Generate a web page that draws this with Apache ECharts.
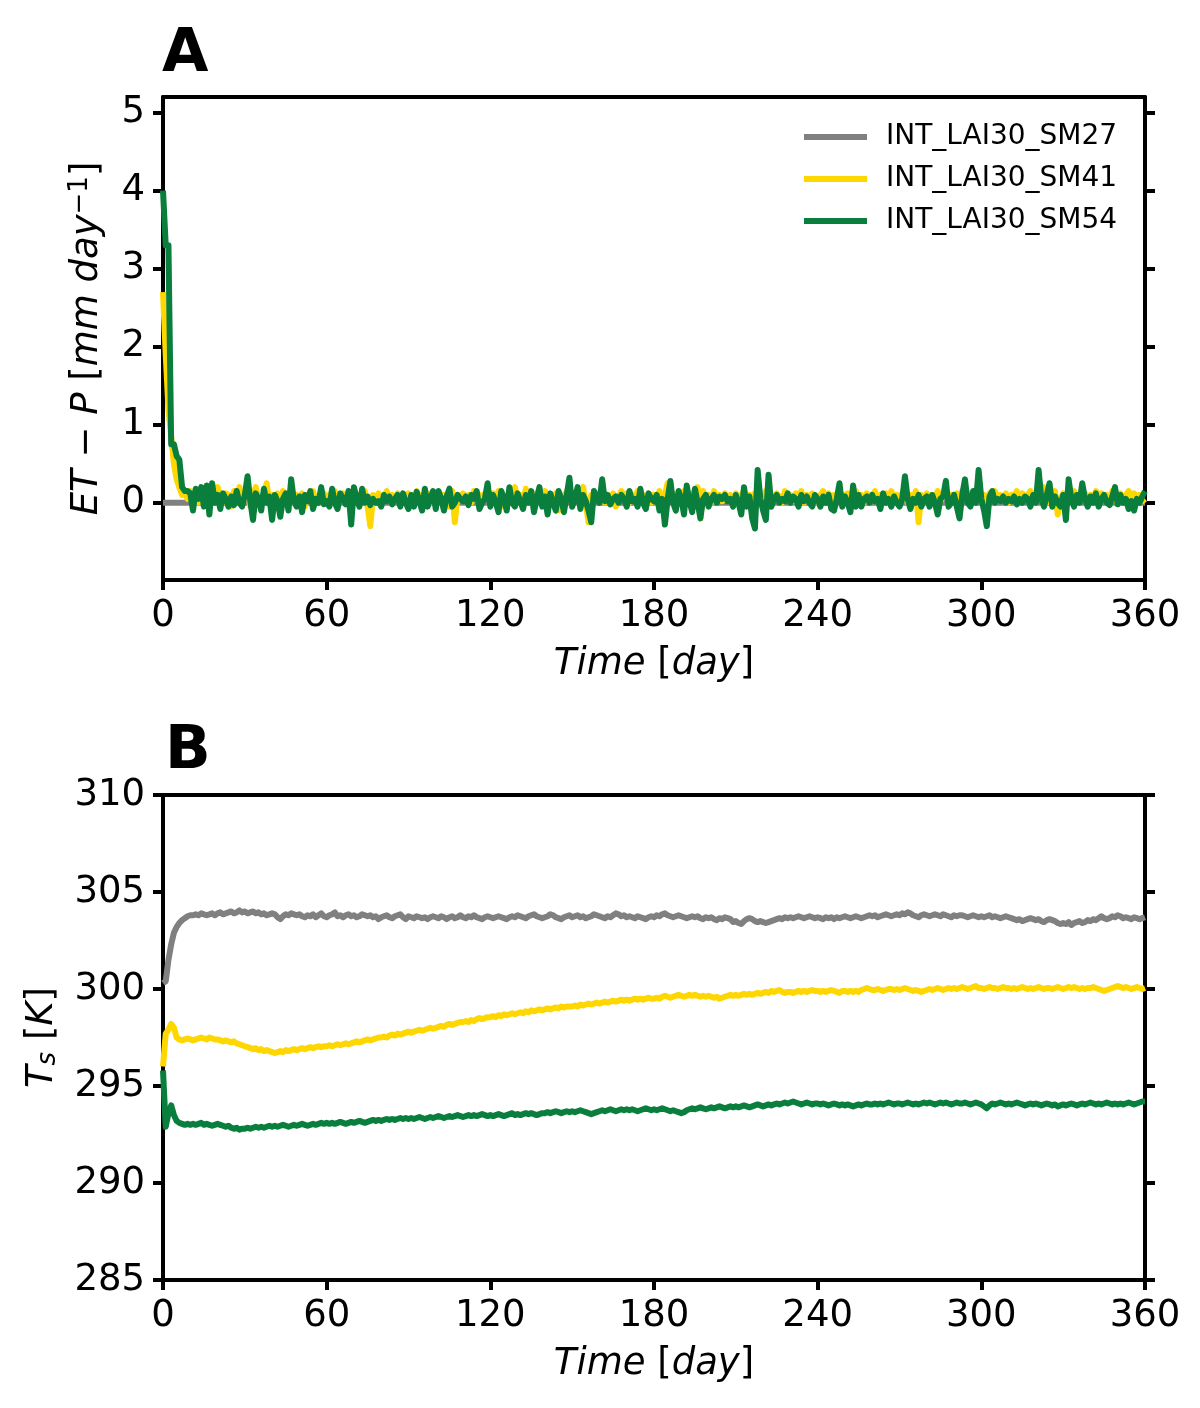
<!DOCTYPE html>
<html><head><meta charset="utf-8">
<script src="https://cdn.jsdelivr.net/npm/echarts@6/dist/echarts.min.js"></script>
<style>html,body{margin:0;padding:0;background:#fff}#c{width:1200px;height:1408px}</style>
</head><body><div id="c"></div>
<script>
const seriesNames = ['INT_LAI30_SM27','INT_LAI30_SM41','INT_LAI30_SM54'];
const seriesColors = ['#808080','#ffd700','#0a7f3d'];
const xTicks = [0,60,120,180,240,300,360];
const etTicks = [0,1,2,3,4,5];
const tsTicks = [285,290,295,300,305,310];

// Panel A: ET - P [mm day-1], daily, day 0..360
const etSM27 = [
0,0,0,0,0,0,0,0,0,0,0,0,0,0,0,0,0,0,0,0,
0,0,0,0,0,0,0,0,0,0,0,0,0,0,0,0,0,0,0,0,
0,0,0,0,0,0,0,0,0,0,0,0,0,0,0,0,0,0,0,0,
0,0,0,0,0,0,0,0,0,0,0,0,0,0,0,0,0,0,0,0,
0,0,0,0,0,0,0,0,0,0,0,0,0,0,0,0,0,0,0,0,
0,0,0,0,0,0,0,0,0,0,0,0,0,0,0,0,0,0,0,0,
0,0,0,0,0,0,0,0,0,0,0,0,0,0,0,0,0,0,0,0,
0,0,0,0,0,0,0,0,0,0,0,0,0,0,0,0,0,0,0,0,
0,0,0,0,0,0,0,0,0,0,0,0,0,0,0,0,0,0,0,0,
0,0,0,0,0,0,0,0,0,0,0,0,0,0,0,0,0,0,0,0,
0,0,0,0,0,0,0,0,0,0,0,0,0,0,0,0,0,0,0,0,
0,0,0,0,0,0,0,0,0,0,0,0,0,0,0,0,0,0,0,0,
0,0,0,0,0,0,0,0,0,0,0,0,0,0,0,0,0,0,0,0,
0,0,0,0,0,0,0,0,0,0,0,0,0,0,0,0,0,0,0,0,
0,0,0,0,0,0,0,0,0,0,0,0,0,0,0,0,0,0,0,0,
0,0,0,0,0,0,0,0,0,0,0,0,0,0,0,0,0,0,0,0,
0,0,0,0,0,0,0,0,0,0,0,0,0,0,0,0,0,0,0,0,
0,0,0,0,0,0,0,0,0,0,0,0,0,0,0,0,0,0,0,0,
0];
const etSM41 = [
2.7,1.9,1.2,0.85,0.5,0.3,0.2,0.1,0.12,0.05,
0.15,0.05,0.1,0.0,0.12,0.08,-0.02,0.1,0.15,0.05,
0.2,0.08,0.0,0.12,0.1,-0.05,0.15,0.05,0.2,0.02,
0.08,0.15,-0.05,0.1,0.2,0.05,0.0,0.12,0.25,-0.02,
0.1,0.05,0.12,0.0,0.15,0.08,0.05,0.2,0.0,0.1,
0.05,0.12,-0.05,0.1,0.05,0.15,0.02,0.08,0.0,0.12,
0.05,0.1,0.02,0.15,-0.05,0.08,0.12,0.0,0.1,0.05,
0.12,0.0,0.1,0.05,0.15,-0.05,-0.3,0.1,0.05,0.12,
0.0,0.08,0.15,0.02,0.1,0.05,0.12,-0.02,0.1,0.05,
0.12,0.0,0.08,0.15,0.05,0.1,0.02,0.12,0.0,0.1,
0.05,0.12,0.0,0.1,0.08,-0.05,0.15,-0.25,0.1,0.05,
0.12,0.05,0.1,0.0,0.15,0.05,0.1,0.02,0.12,0.08,
0.0,0.12,0.05,0.15,-0.05,0.1,0.05,0.12,0.0,0.2,
0.05,0.1,0.0,0.18,0.05,0.1,-0.05,0.12,0.05,0.1,
0.15,0.0,0.1,0.05,0.12,-0.1,0.1,0.05,0.15,0.08,
0.0,0.12,0.05,0.1,0.2,0.0,-0.25,0.1,0.05,0.12,
0.05,0.15,0.0,0.1,0.05,0.12,-0.05,0.08,0.15,0.05,
0.12,0.0,0.1,0.05,0.15,0.02,0.1,0.05,0.12,0.0,
0.1,0.05,0.15,-0.05,0.1,0.25,0.05,0.12,0.0,0.1,
0.05,0.15,0.0,0.1,0.12,0.05,0.2,-0.2,0.15,0.05,
0.1,0.0,0.15,0.05,0.1,0.02,0.12,0.05,0.1,0.0,
0.12,0.05,0.1,0.15,0.0,0.1,0.05,0.12,0.02,0.1,
0.05,0.15,0.0,0.1,0.05,0.12,0.08,0.0,0.15,0.05,
0.1,0.02,0.12,0.05,0.15,0.0,0.1,0.08,0.12,0.05,
0.0,0.1,0.15,0.05,0.12,-0.05,0.1,0.05,0.15,0.02,
0.1,0.12,-0.02,0.08,0.15,0.05,0.1,0.0,0.12,0.05,
0.08,0.15,0.02,0.1,0.05,0.12,0.0,0.15,0.05,0.1,
0.05,0.12,0.2,0.0,0.1,0.05,0.15,-0.25,0.1,0.05,
0.12,0.0,0.1,0.05,0.15,0.02,0.1,0.18,0.05,0.1,
0.0,0.12,0.05,0.15,0.1,0.02,0.12,0.05,0.1,0.2,
0.05,0.1,0.0,0.12,0.05,0.15,0.02,0.1,0.05,0.12,
0.0,0.1,0.05,0.15,0.02,0.12,0.05,0.1,0.15,0.0,
0.1,0.05,0.12,0.2,0.0,0.1,0.05,0.15,-0.15,0.05,
0.12,0.0,0.1,0.05,0.15,0.02,0.1,0.05,0.12,0.0,
0.1,0.05,0.15,0.0,0.12,0.05,0.1,0.02,0.15,0.05,
0.0,0.12,0.05,0.1,0.15,0.0,0.12,0.05,0.1,0.02,
0.05];
const etSM54 = [
4.0,3.3,3.3,0.75,0.75,0.6,0.55,0.2,0.15,0.15,
0.12,-0.1,0.18,0.05,0.2,-0.05,0.22,-0.15,0.25,0.0,
0.1,-0.08,0.12,0.05,-0.05,0.08,-0.03,0.15,0.0,-0.05,
0.1,0.34,0.02,-0.22,0.12,0.05,-0.1,0.18,0.0,0.08,
-0.22,0.1,0.02,-0.18,0.05,0.12,-0.1,0.3,0.02,-0.05,
0.08,-0.12,0.1,0.02,0.15,-0.08,0.05,0.0,0.2,-0.02,
0.02,-0.05,0.18,0.0,-0.08,0.12,0.05,-0.02,0.15,-0.28,
0.2,0.05,-0.05,0.18,0.0,0.08,-0.03,0.05,0.0,0.02,
-0.05,0.1,0.02,0.08,-0.02,0.05,0.1,-0.05,0.12,0.0,
-0.08,0.1,-0.05,0.14,0.02,-0.1,0.18,-0.05,0.05,0.15,
-0.08,0.15,0.05,-0.1,0.08,0.18,-0.05,0.0,0.1,0.05,
0.02,0.08,-0.03,0.1,0.05,0.15,-0.08,0.0,0.05,0.25,
-0.05,0.1,0.0,-0.12,0.15,0.05,-0.1,0.2,0.0,-0.05,
0.12,0.02,-0.08,0.1,0.0,0.15,-0.12,0.05,0.2,-0.05,
0.08,-0.15,0.12,0.0,-0.1,0.15,0.05,-0.12,0.1,0.32,
-0.05,0.05,0.2,-0.08,0.1,0.02,-0.1,-0.25,0.15,0.05,
0.0,0.3,0.02,0.1,-0.02,0.05,0.08,0.0,0.1,0.05,
-0.05,0.15,0.02,0.05,-0.05,0.18,0.0,-0.08,0.12,0.05,
0.02,0.1,-0.1,0.05,-0.28,0.05,0.28,0.0,-0.1,0.15,
0.05,-0.15,0.22,0.02,-0.12,0.18,0.0,-0.2,0.05,0.1,
-0.05,0.05,0.1,0.0,0.08,0.05,0.1,0.02,0.05,-0.05,
0.1,0.0,-0.15,0.2,-0.05,0.08,-0.2,-0.33,0.42,0.05,
-0.1,-0.22,0.36,-0.05,0.05,0.1,0.0,0.05,0.02,0.12,
0.0,0.08,0.05,-0.05,0.1,0.02,0.08,0.0,-0.05,0.1,
0.05,-0.05,0.08,0.0,0.1,-0.08,-0.1,0.05,0.25,-0.05,
0.08,0.0,-0.12,0.22,-0.05,0.1,-0.05,0.05,0.08,0.0,
0.1,0.02,0.05,-0.08,0.12,0.0,0.05,-0.05,0.08,0.0,
-0.05,0.05,0.34,0.05,-0.08,0.05,0.0,0.1,-0.05,0.05,
0.08,-0.05,0.1,0.0,-0.15,0.05,0.08,0.28,-0.05,0.0,
0.1,-0.05,-0.2,0.1,0.3,0.0,-0.05,0.15,0.0,0.42,
0.05,-0.1,-0.3,0.08,0.15,0.0,0.05,0.02,0.08,0.0,
0.05,0.02,0.08,-0.02,0.05,0.0,0.08,0.05,-0.05,0.1,
0.0,0.42,0.05,-0.05,0.1,0.25,-0.05,0.08,0.0,-0.05,
0.1,-0.22,0.3,0.05,-0.05,0.1,0.0,0.25,0.05,-0.05,
0.08,0.0,0.12,-0.05,0.05,0.1,0.0,-0.03,0.08,0.2,
-0.02,0.1,0.0,0.05,-0.08,0.02,-0.1,0.05,0.0,0.08,
0.15];

// Panel B: Ts [K], daily, day 0..360
const tsSM27 = [
300.3,300.4,301.5,302.3,302.9,303.2,303.4,303.55,303.65,303.75,
303.8,303.8,303.85,303.8,303.9,303.85,303.8,303.85,303.9,303.8,
303.9,303.95,303.85,303.9,303.95,304.0,303.9,303.95,304.05,303.95,
304.0,303.9,303.95,304.0,303.9,303.95,303.85,303.9,303.8,303.85,
303.9,303.85,303.7,303.6,303.75,303.85,303.8,303.9,303.85,303.8,
303.85,303.75,303.7,303.8,303.75,303.85,303.7,303.8,303.9,303.75,
303.7,303.8,303.85,303.95,303.75,303.8,303.7,303.8,303.85,303.75,
303.8,303.7,303.75,303.85,303.8,303.75,303.8,303.7,303.75,303.6,
303.7,303.75,303.8,303.7,303.65,303.75,303.8,303.85,303.7,303.6,
303.75,303.7,303.65,303.75,303.7,303.65,303.7,303.6,303.7,303.75,
303.7,303.65,303.75,303.7,303.6,303.7,303.75,303.65,303.7,303.8,
303.7,303.65,303.75,303.7,303.8,303.7,303.65,303.6,303.7,303.75,
303.7,303.65,303.7,303.75,303.7,303.65,303.6,303.7,303.75,303.7,
303.8,303.75,303.7,303.65,303.75,303.8,303.85,303.75,303.7,303.65,
303.7,303.75,303.85,303.8,303.7,303.65,303.6,303.7,303.75,303.8,
303.7,303.75,303.8,303.7,303.75,303.65,303.7,303.75,303.85,303.8,
303.75,303.7,303.65,303.75,303.7,303.8,303.9,303.85,303.75,303.8,
303.7,303.75,303.7,303.65,303.75,303.7,303.65,303.6,303.7,303.75,
303.7,303.8,303.75,303.85,303.9,303.8,303.75,303.7,303.75,303.8,
303.75,303.7,303.65,303.7,303.75,303.7,303.75,303.65,303.6,303.7,
303.65,303.7,303.6,303.55,303.65,303.6,303.7,303.65,303.6,303.45,
303.5,303.4,303.35,303.5,303.6,303.65,303.6,303.5,303.45,303.5,
303.45,303.4,303.45,303.5,303.55,303.6,303.65,303.6,303.7,303.65,
303.7,303.65,303.7,303.75,303.7,303.65,303.7,303.75,303.7,303.65,
303.7,303.65,303.6,303.7,303.65,303.7,303.6,303.7,303.65,303.7,
303.75,303.7,303.65,303.7,303.75,303.7,303.65,303.7,303.75,303.8,
303.75,303.8,303.7,303.75,303.8,303.85,303.8,303.75,303.8,303.85,
303.8,303.9,303.85,303.95,303.9,303.8,303.75,303.7,303.8,303.85,
303.8,303.75,303.8,303.85,303.8,303.75,303.85,303.8,303.75,303.7,
303.8,303.75,303.8,303.8,303.75,303.7,303.75,303.8,303.75,303.7,
303.75,303.7,303.75,303.8,303.7,303.75,303.7,303.65,303.7,303.75,
303.7,303.65,303.6,303.55,303.6,303.5,303.55,303.6,303.65,303.6,
303.55,303.6,303.5,303.45,303.55,303.6,303.55,303.5,303.4,303.35,
303.4,303.35,303.45,303.3,303.4,303.45,303.5,303.4,303.45,303.55,
303.5,303.6,303.55,303.65,303.75,303.65,303.6,303.65,303.75,303.7,
303.8,303.75,303.65,303.7,303.65,303.6,303.7,303.65,303.6,303.65,
303.7];
const tsSM41 = [
296.0,297.7,297.9,298.2,298.0,297.5,297.4,297.35,297.4,297.45,
297.4,297.35,297.4,297.45,297.5,297.45,297.4,297.5,297.45,297.4,
297.4,297.35,297.3,297.35,297.3,297.25,297.3,297.2,297.15,297.1,
297.05,297.0,296.95,296.9,296.95,296.85,296.9,296.8,296.85,296.8,
296.75,296.7,296.75,296.8,296.75,296.85,296.8,296.85,296.9,296.85,
296.9,296.95,296.9,296.95,297.0,296.95,297.0,297.05,297.0,297.05,
297.05,297.1,297.05,297.1,297.15,297.1,297.15,297.2,297.15,297.2,
297.25,297.3,297.25,297.3,297.35,297.4,297.35,297.4,297.45,297.5,
297.5,297.55,297.5,297.6,297.65,297.6,297.7,297.65,297.7,297.75,
297.8,297.75,297.8,297.85,297.9,297.85,297.9,297.95,298.0,297.95,
298.0,298.05,298.1,298.05,298.15,298.2,298.15,298.2,298.25,298.3,
298.3,298.35,298.3,298.4,298.35,298.45,298.5,298.45,298.5,298.55,
298.55,298.6,298.55,298.65,298.6,298.7,298.65,298.7,298.75,298.7,
298.75,298.8,298.75,298.85,298.8,298.9,298.85,298.9,298.95,298.9,
298.95,299.0,298.95,299.0,299.05,299.0,299.1,299.05,299.1,299.1,
299.1,299.15,299.1,299.2,299.15,299.2,299.25,299.2,299.25,299.3,
299.25,299.3,299.35,299.3,299.35,299.4,299.35,299.4,299.45,299.4,
299.45,299.4,299.45,299.5,299.45,299.5,299.45,299.5,299.55,299.5,
299.5,299.55,299.5,299.6,299.65,299.6,299.55,299.6,299.65,299.7,
299.65,299.6,299.65,299.7,299.65,299.7,299.65,299.6,299.65,299.6,
299.65,299.6,299.55,299.6,299.5,299.55,299.6,299.65,299.7,299.65,
299.7,299.65,299.7,299.75,299.7,299.75,299.7,299.75,299.8,299.75,
299.8,299.85,299.8,299.9,299.85,299.9,299.95,299.85,299.8,299.85,
299.85,299.8,299.85,299.9,299.85,299.9,299.85,299.9,299.95,299.9,
299.9,299.85,299.9,299.85,299.9,299.95,299.9,299.85,299.8,299.9,
299.9,299.85,299.9,299.85,299.9,299.85,299.95,300.0,300.05,300.0,
299.95,299.95,300.0,299.95,299.9,299.95,300.0,300.0,299.95,300.0,
299.95,300.0,300.05,300.0,299.95,299.9,299.95,299.9,299.85,299.9,
299.95,300.0,299.95,300.0,300.05,300.0,299.95,300.0,300.05,300.0,
300.05,300.0,300.05,300.1,300.05,300.0,300.05,300.1,300.15,300.05,
300.05,300.0,300.05,300.1,300.05,300.05,300.0,300.05,300.1,300.05,
300.05,300.0,300.05,300.0,300.05,300.1,300.05,300.0,300.05,300.0,
300.05,300.1,300.05,300.0,300.05,300.05,300.0,300.05,300.1,300.05,
300.0,300.05,300.1,300.05,300.1,300.05,300.0,300.05,300.0,300.05,
300.05,300.1,300.05,300.0,299.95,299.9,299.95,300.0,300.05,300.1,
300.15,300.1,300.05,300.1,300.05,300.0,300.05,300.1,300.05,300.0,
300.05];
const tsSM54 = [
295.8,292.9,293.6,294.0,293.5,293.2,293.1,293.05,293.0,293.05,
293.0,293.05,293.0,293.05,293.1,293.0,293.05,293.0,292.95,293.0,
293.05,293.0,292.95,292.9,292.95,292.85,292.8,292.85,292.75,292.8,
292.8,292.85,292.8,292.85,292.9,292.85,292.9,292.85,292.9,292.95,
292.9,292.95,292.9,292.95,293.0,292.95,292.9,292.95,293.0,292.95,
293.0,293.05,293.0,292.95,293.0,293.05,293.0,293.05,293.1,293.05,
293.1,293.05,293.1,293.05,293.1,293.15,293.1,293.05,293.1,293.15,
293.1,293.15,293.2,293.15,293.1,293.15,293.2,293.25,293.2,293.25,
293.2,293.25,293.3,293.25,293.3,293.25,293.3,293.35,293.3,293.35,
293.3,293.35,293.3,293.35,293.4,293.35,293.3,293.35,293.4,293.35,
293.4,293.45,293.4,293.35,293.4,293.45,293.4,293.45,293.5,293.45,
293.4,293.45,293.5,293.45,293.5,293.45,293.5,293.55,293.5,293.45,
293.5,293.45,293.5,293.55,293.5,293.45,293.5,293.55,293.6,293.5,
293.55,293.5,293.55,293.6,293.55,293.6,293.55,293.5,293.55,293.6,
293.6,293.65,293.6,293.65,293.7,293.65,293.6,293.65,293.7,293.65,
293.7,293.65,293.7,293.75,293.7,293.65,293.6,293.55,293.6,293.65,
293.7,293.75,293.7,293.75,293.8,293.75,293.7,293.75,293.8,293.75,
293.8,293.75,293.8,293.75,293.7,293.75,293.8,293.85,293.8,293.75,
293.8,293.75,293.8,293.85,293.8,293.75,293.7,293.75,293.7,293.65,
293.6,293.65,293.75,293.8,293.85,293.8,293.85,293.9,293.85,293.8,
293.85,293.9,293.85,293.9,293.95,293.9,293.85,293.9,293.95,293.9,
293.95,293.9,293.95,294.0,293.95,293.9,293.95,294.0,294.05,294.0,
293.95,294.0,294.05,294.0,294.05,294.1,294.05,294.1,294.15,294.1,
294.15,294.2,294.15,294.1,294.05,294.1,294.15,294.1,294.05,294.1,
294.1,294.05,294.1,294.05,294.0,294.05,294.1,294.05,294.0,294.05,
294.0,294.05,294.0,293.95,294.0,294.05,294.0,294.05,294.1,294.05,
294.05,294.1,294.05,294.1,294.05,294.1,294.15,294.1,294.05,294.1,
294.1,294.05,294.1,294.15,294.1,294.05,294.1,294.05,294.1,294.15,
294.1,294.15,294.1,294.05,294.1,294.15,294.1,294.15,294.1,294.05,
294.1,294.15,294.1,294.1,294.15,294.1,294.05,294.1,294.15,294.1,
294.05,293.95,293.85,294.0,294.1,294.05,294.1,294.15,294.1,294.05,
294.1,294.05,294.1,294.15,294.1,294.05,294.0,294.05,294.1,294.05,
294.1,294.05,294.0,294.05,294.1,294.05,294.0,294.05,293.95,294.0,
294.05,294.0,294.05,294.1,294.05,294.0,294.05,294.1,294.05,294.1,
294.15,294.1,294.05,294.1,294.05,294.1,294.15,294.1,294.05,294.1,
294.05,294.1,294.05,294.1,294.15,294.1,294.05,294.1,294.15,294.2,
294.2];

const F = 'DejaVu Sans';
const FS = 37;
const days = etSM54.map((_, i) => i);
const pairs = arr => arr.map((v, i) => [days[i], v]);

const spine = {show: true, onZero: false, lineStyle: {color: '#000', width: 4}};
const tick = {show: true, length: 10, inside: false, lineStyle: {color: '#000', width: 4}};
const lbl = {fontSize: FS, color: '#000', fontFamily: F, margin: 18};
const nameStyle = {fontSize: FS, color: '#000', fontFamily: F,
  rich: {
    i: {fontSize: FS, fontStyle: 'italic', fontFamily: F, color: '#000'},
    r: {fontSize: FS, fontFamily: F, color: '#000'},
    sup: {fontSize: 26, fontFamily: F, color: '#000', verticalAlign: 'top', padding: [0, 0, 14, 0]},
    sub: {fontSize: 26, fontStyle: 'italic', fontFamily: F, color: '#000', verticalAlign: 'bottom', padding: [12, 0, 0, 0]}
  }};

function xAxes(g) {
  return [
    {gridIndex: g, type: 'value', min: 0, max: 360, position: 'bottom',
     axisLine: spine, axisTick: Object.assign({customValues: xTicks}, tick),
     axisLabel: Object.assign({customValues: xTicks}, lbl), splitLine: {show: false},
     name: '{i|Time} {r|[}{i|day}{r|]}', nameLocation: 'middle', nameGap: 66, nameTextStyle: nameStyle},
    {gridIndex: g, type: 'value', min: 0, max: 360, position: 'top',
     axisLine: spine, axisTick: {show: false}, axisLabel: {show: false}, splitLine: {show: false}}
  ];
}
function yAxes(g, mn, mx, ticks, name, gap) {
  return [
    {gridIndex: g, type: 'value', min: mn, max: mx, position: 'left',
     axisLine: spine, axisTick: Object.assign({customValues: ticks}, tick),
     axisLabel: Object.assign({customValues: ticks}, lbl), splitLine: {show: false},
     name: name, nameLocation: 'middle', nameGap: gap, nameTextStyle: nameStyle},
    {gridIndex: g, type: 'value', min: mn, max: mx, position: 'right',
     axisLine: spine, axisTick: Object.assign({customValues: ticks}, tick),
     axisLabel: {show: false}, splitLine: {show: false}}
  ];
}
function line(name, color, data, xi, yi, z) {
  return {type: 'line', name: name, data: pairs(data), xAxisIndex: xi, yAxisIndex: yi,
    symbol: 'none', showSymbol: false, z: z, animation: false,
    lineStyle: {color: color, width: 6, join: 'round'}, itemStyle: {color: color}};
}

const chart = echarts.init(document.getElementById('c'), null, {renderer: 'canvas'});
chart.setOption({
  backgroundColor: '#fff',
  animation: false,
  grid: [
    {left: 163, top: 97, width: 982, height: 483},
    {left: 163, top: 795, width: 982, height: 485}
  ],
  xAxis: xAxes(0).concat(xAxes(1)),
  yAxis: yAxes(0, -0.99, 5.2, etTicks, '{i|ET} {r|−} {i|P} {r|[}{i|mm day}{sup|−1}{r|]}', 56)
    .concat(yAxes(1, 285, 310, tsTicks, '{i|T}{sub|s} {r|[}{i|K}{r|]}', 102)),
  legend: {
    data: seriesNames, orient: 'vertical', left: 804, top: 122, padding: 0,
    icon: 'rect', itemWidth: 63, itemHeight: 6, itemGap: 12,
    textStyle: {fontSize: 28, fontFamily: F, color: '#000', lineHeight: 30, padding: [0, 0, 0, 14]},
    selectedMode: false
  },
  graphic: [
    {type: 'text', left: 162, top: 25, style: {text: 'A', font: 'bold 60px "DejaVu Sans"', fill: '#000'}},
    {type: 'text', left: 165, top: 722, style: {text: 'B', font: 'bold 60px "DejaVu Sans"', fill: '#000'}}
  ],
  series: [
    line(seriesNames[0], seriesColors[0], etSM27, 0, 0, 2),
    line(seriesNames[1], seriesColors[1], etSM41, 0, 0, 3),
    line(seriesNames[2], seriesColors[2], etSM54, 0, 0, 4),
    line(seriesNames[0], seriesColors[0], tsSM27, 2, 2, 2),
    line(seriesNames[1], seriesColors[1], tsSM41, 2, 2, 3),
    line(seriesNames[2], seriesColors[2], tsSM54, 2, 2, 4)
  ]
});
</script></body></html>
